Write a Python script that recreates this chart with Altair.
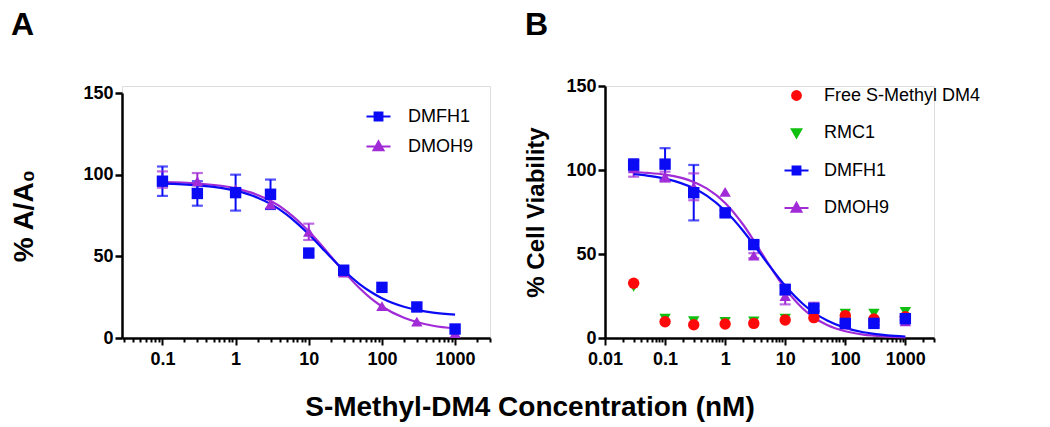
import altair as alt
import pandas as pd

# ---------------- data ----------------
# Panel A
conc_A = [0.1, 0.3, 1, 3, 10, 30, 100, 300, 1000]
dmfh1_A = [96, 88.5, 89, 88, 52, 41.5, 31, 19, 5.5]
dmfh1_A_err = [9, 7.5, 11, 9, 2, 1.5, 0, 0, 0]
dmoh9_A = [97, 96, 91, 82, 65, 40, 19.5, 10, 3]
dmoh9_A_err = [5, 5, 0, 3, 5, 1.5, 0, 0, 0]

fitx_A = [0.1, 0.3, 1, 2, 3, 5, 7, 10, 15, 20, 30, 50, 70, 100, 200, 300, 500, 1000]
fit_dmfh1_A = [94.5, 93.5, 90.2, 85.9, 82.1, 75.5, 70.0, 63.5, 55.3, 49.4, 41.5, 32.9, 28.3, 24.3, 19.1, 17.2, 15.5, 14.3]
fit_dmoh9_A = [95.5, 94.6, 91.6, 87.6, 84.0, 77.6, 72.1, 65.3, 56.6, 50.0, 40.8, 30.3, 24.4, 19.3, 12.4, 9.8, 7.5, 5.8]

# Panel B
conc_B = [0.03, 0.1, 0.3, 1, 3, 10, 30, 100, 300, 1000]
free_B = [32.6, 9.7, 7.9, 8.3, 8.7, 10.7, 12.1, 13.3, 11.3, 12.7]
rmc1_B = [30.5, 11.5, 10, 9.5, 9.8, 11.5, 13.5, 14.5, 14.5, 15.5]
dmfh1_B = [103, 103.5, 86.5, 74.5, 55.6, 28.8, 17.7, 8.7, 8.7, 11.5]
dmfh1_B_err = [3.5, 9.5, 16.5, 1.5, 2, 3, 1.5, 1, 1, 1]
dmoh9_B = [101, 96, 90, 87, 49, 25, 18.5, 8, 9, 10]
dmoh9_B_err = [5, 3, 8, 0, 1.5, 5, 2.5, 1, 1, 1]
zero_B = [0, 0, 0, 0, 0, 0, 0, 0, 0, 0]

fitx_B = [0.03, 0.05, 0.1, 0.3, 0.5, 1, 2, 3, 5, 10, 20, 30, 50, 100, 200, 300, 500, 1000]
fit_dmfh1_B = [97.5, 96.7, 94.9, 89.1, 84.6, 75.7, 63.7, 55.5, 44.8, 31.1, 20.1, 15.1, 10.4, 6.0, 3.4, 2.5, 1.6, 0.9]
fit_dmoh9_B = [98.8, 98.3, 97.2, 92.9, 88.9, 80.4, 67.4, 58.0, 45.4, 29.4, 17.3, 12.2, 7.7, 4.0, 2.0, 1.4, 0.8, 0.4]

# axis ticks
y_ticks = [0, 50, 100, 150]
major_A = [0.1, 1, 10, 100, 1000]
minor_A = [0.03, 0.04, 0.05, 0.06, 0.07, 0.08, 0.09,
           0.2, 0.3, 0.4, 0.5, 0.6, 0.7, 0.8, 0.9,
           2, 3, 4, 5, 6, 7, 8, 9,
           20, 30, 40, 50, 60, 70, 80, 90,
           200, 300, 400, 500, 600, 700, 800, 900, 2000, 3000]
major_B = [0.01, 0.1, 1, 10, 100, 1000]
minor_B = [0.02] + minor_A

series_A = ["DMFH1", "DMOH9"]
series_B = ["Free S-Methyl DM4", "RMC1", "DMFH1", "DMOH9"]

# ---------------- styling ----------------
FONT = "Liberation Sans"
BLUE = "#0A0AF5"
PURPLE = "#A12BD6"
RED = "#FF0A0A"
GREEN = "#10C010"

LINE_SQUARE = "M-1,0L1,0M-0.32,-0.32L0.32,-0.32L0.32,0.32L-0.32,0.32Z"
LINE_TRI = "M-1,0L1,0M0,-0.42L0.4,0.3L-0.4,0.3Z"
CIRCLE = "M-0.36,0A0.36,0.36 0 1,1 0.36,0A0.36,0.36 0 1,1 -0.36,0Z"
TRI_DOWN = "M-0.38,-0.3L0.38,-0.3L0,0.36Z"

DECADE = "abs(log(datum.value) / LN10 - round(log(datum.value) / LN10)) < 0.001"


def points_frame(conc, table):
    rows = []
    for name, vals, errs in table:
        for c, v, e in zip(conc, vals, errs):
            rows.append({"conc": c, "value": v, "err": e, "lo": v - e, "hi": v + e, "series": name})
    return pd.DataFrame(rows)


def curve_frame(xs, table):
    rows = []
    for name, vals in table:
        for c, v in zip(xs, vals):
            rows.append({"conc": c, "value": v, "series": name})
    return pd.DataFrame(rows)


def make_panel(pts, curves, xdomain, major, minor, ytitle, ytitle_size, ytitle_pad,
               dom, colors, shapes, legend_shapes, legend_x, legend_y, row_pad, label_off,
               width, height, y_top, letter, letter_off):
    xaxis = alt.Axis(values=sorted(major + minor), format="~g",
                     labelExpr=f"{DECADE} ? datum.label : ''",
                     tickSize={"condition": {"test": DECADE, "value": 7}, "value": 4},
                     tickWidth=2, domainWidth=2.5, labelFont=FONT, labelFontSize=18,
                     labelFontWeight="bold", labelColor="black", labelPadding=5,
                     labelOverlap=False, labelFlush=False, title=None, grid=False,
                     domainColor="black", tickColor="black")
    yaxis = alt.Axis(values=y_ticks, title=ytitle, titleFont=FONT, titleFontSize=ytitle_size,
                     titleFontWeight="bold", titleColor="black", titlePadding=ytitle_pad,
                     labelFont=FONT, labelFontSize=18, labelFontWeight="bold", labelColor="black",
                     labelPadding=2, tickSize=7, tickWidth=2.5, domainWidth=2.5, grid=False,
                     domainColor="black", tickColor="black")
    xs = alt.Scale(type="log", domain=xdomain, nice=False)
    ys = alt.Scale(domain=[0, 150], range=[height, y_top], nice=False)

    def X():
        return alt.X("conc:Q", scale=xs, axis=xaxis)

    def Y(field):
        return alt.Y(f"{field}:Q", scale=ys, axis=yaxis)

    color = alt.Color("series:N", scale=alt.Scale(domain=dom, range=colors), legend=None)

    base = alt.Chart(pts)
    err = base.transform_filter("datum.err > 0")
    rules = err.mark_rule(strokeWidth=2).encode(x=X(), y=Y("lo"), y2="hi:Q", color=color)
    cap_lo = err.mark_tick(orient="horizontal", size=11, thickness=2.2).encode(x=X(), y=Y("lo"), color=color)
    cap_hi = err.mark_tick(orient="horizontal", size=11, thickness=2.2).encode(x=X(), y=Y("hi"), color=color)
    lines = alt.Chart(curves).mark_line(strokeWidth=2.2, interpolate="monotone").encode(
        x=X(), y=Y("value"), color=color)
    points = base.mark_point(filled=True, opacity=1, size=130).encode(
        x=X(), y=Y("value"), color=color,
        shape=alt.Shape("series:N", scale=alt.Scale(domain=dom, range=shapes), legend=None))

    leg = alt.Legend(title=None, orient="none", legendX=legend_x, legendY=legend_y,
                     symbolSize=576, symbolStrokeWidth=2.2, labelFont=FONT, labelFontSize=18,
                     labelColor="black", labelOffset=label_off, rowPadding=row_pad,
                     labelLimit=400, padding=0, symbolOpacity=1)
    legend_layer = base.mark_point(filled=True, opacity=0, strokeWidth=2.2).encode(
        x=X(), y=Y("value"),
        fill=alt.Fill("series:N", scale=alt.Scale(domain=dom, range=colors), legend=leg),
        stroke=alt.Stroke("series:N", scale=alt.Scale(domain=dom, range=colors), legend=leg),
        shape=alt.Shape("series:N", scale=alt.Scale(domain=dom, range=legend_shapes), legend=leg))

    layered = alt.layer(rules, cap_lo, cap_hi, lines, points, legend_layer).resolve_scale(
        shape="independent", fill="independent", stroke="independent")
    return layered.properties(
        width=width, height=height,
        title=alt.TitleParams(letter, anchor="start", frame="bounds", font=FONT, fontSize=32,
                              fontWeight="bold", color="black", offset=letter_off))


# panel A data (DMOH9 drawn first so DMFH1 sits on top)
pts_A = points_frame(conc_A, [("DMOH9", dmoh9_A, dmoh9_A_err), ("DMFH1", dmfh1_A, dmfh1_A_err)])
curves_A = curve_frame(fitx_A, [("DMOH9", fit_dmoh9_A), ("DMFH1", fit_dmfh1_A)])

pts_B = points_frame(conc_B, [("RMC1", rmc1_B, zero_B), ("Free S-Methyl DM4", free_B, zero_B),
                              ("DMOH9", dmoh9_B, dmoh9_B_err), ("DMFH1", dmfh1_B, dmfh1_B_err)])
curves_B = curve_frame(fitx_B, [("DMOH9", fit_dmoh9_B), ("DMFH1", fit_dmfh1_B)])

panel_A = make_panel(pts_A, curves_A, [0.028, 3000], major_A, minor_A, "% A/A₀", 28, 44,
                     series_A, [BLUE, PURPLE], ["square", "triangle-up"],
                     [LINE_SQUARE, LINE_TRI], 243, 17, 7, 16, 368, 252, 7, "A", 42)

panel_B = make_panel(pts_B, curves_B, [0.01, 3000], major_B, minor_B, "% Cell Viability", 24, 17,
                     series_B, [RED, GREEN, BLUE, PURPLE],
                     ["circle", "triangle-down", "square", "triangle-up"],
                     [CIRCLE, TRI_DOWN, LINE_SQUARE, LINE_TRI], 178, -4, 14.5, 14, 329, 252, 0, "B", 35)

chart = alt.hconcat(panel_A, panel_B, spacing=32).resolve_scale(
    color="independent", shape="independent", fill="independent", stroke="independent"
).properties(
    title=alt.TitleParams("S-Methyl-DM4 Concentration (nM)", orient="bottom", anchor="middle",
                          font=FONT, fontSize=28, fontWeight="bold", color="black", offset=25, dx=34),
    padding={"left": 2, "top": 0, "right": 5, "bottom": 0},
).configure_view(stroke=None).configure(background="white")

chart.save("out.html", embed_options={"renderer": "svg", "actions": False})
